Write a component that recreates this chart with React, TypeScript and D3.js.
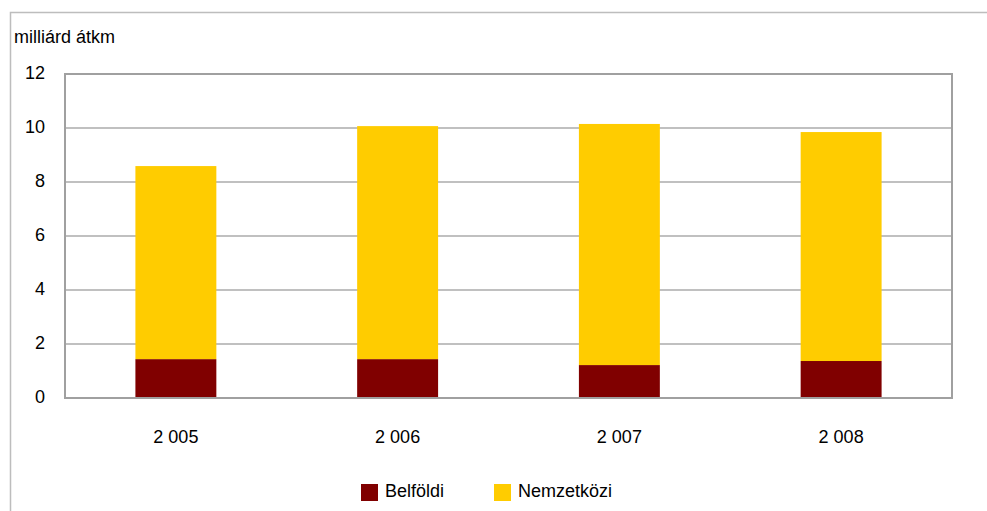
import React from "react";
import * as d3 from "d3";

const years = ["2 005", "2 006", "2 007", "2 008"];
const belfoldi = [1.44, 1.44, 1.22, 1.37];
const nemzetkozi = [7.15, 8.63, 8.93, 8.48];
const yTicks = [0, 2, 4, 6, 8, 10, 12];
const seriesNames = ["Belföldi", "Nemzetközi"];
const colors = ["#800000", "#FFCC00"];

const W = 987;
const H = 511;
const plot = { left: 65, right: 952, top: 74, bottom: 398 };
const FONT = "'Liberation Sans', Arial, sans-serif";

export default function App() {
  const x = d3.scaleBand<string>().domain(years).range([plot.left, plot.right]).padding(0);
  const y = d3.scaleLinear().domain([0, 12]).range([plot.bottom, plot.top]);
  const barW = x.bandwidth() * 0.365;

  const stackData = years.map((yr, i) => ({ year: yr, Belföldi: belfoldi[i], Nemzetközi: nemzetkozi[i] }));
  const stacked = d3.stack<any>().keys(seriesNames)(stackData);

  return (
    <svg width={W} height={H} style={{ position: "absolute", left: 0, top: 0, display: "block" }} fontFamily={FONT}>
      <rect x={0} y={0} width={W} height={H} fill="#fff" />
      <rect x={10.5} y={12.5} width={W + 20} height={H + 20} fill="none" stroke="#bdbdbd" strokeWidth={1.5} />
      <text x={14} y={43} fontSize={18} fill="#000">milliárd átkm</text>
      {yTicks.map((t) => (
        <g key={t}>
          {t > 0 && t < 12 && (
            <line x1={plot.left} x2={plot.right} y1={y(t)} y2={y(t)} stroke="#c0c0c0" strokeWidth={2} />
          )}
          <text x={45} y={y(t) + 4.5} fontSize={18} textAnchor="end" fill="#000">{t}</text>
        </g>
      ))}
      {stacked.map((s, si) =>
        s.map((d, i) => (
          <rect
            key={si + "-" + i}
            x={(x(years[i]) as number) + x.bandwidth() / 2 - barW / 2}
            y={y(d[1])}
            width={barW}
            height={y(d[0]) - y(d[1])}
            fill={colors[si]}
          />
        ))
      )}
      <rect x={plot.left} y={plot.top} width={plot.right - plot.left} height={plot.bottom - plot.top} fill="none" stroke="#a0a0a0" strokeWidth={2} />
      {years.map((yr) => (
        <text key={yr} x={(x(yr) as number) + x.bandwidth() / 2} y={443} fontSize={18} textAnchor="middle" fill="#000">{yr}</text>
      ))}
      {seriesNames.map((n, i) => {
        const lx = [361, 494][i];
        return (
          <g key={n}>
            <rect x={lx} y={484} width={17} height={17} fill={colors[i]} />
            <text x={lx + 24} y={497} fontSize={18} fill="#000">{n}</text>
          </g>
        );
      })}
    </svg>
  );
}
